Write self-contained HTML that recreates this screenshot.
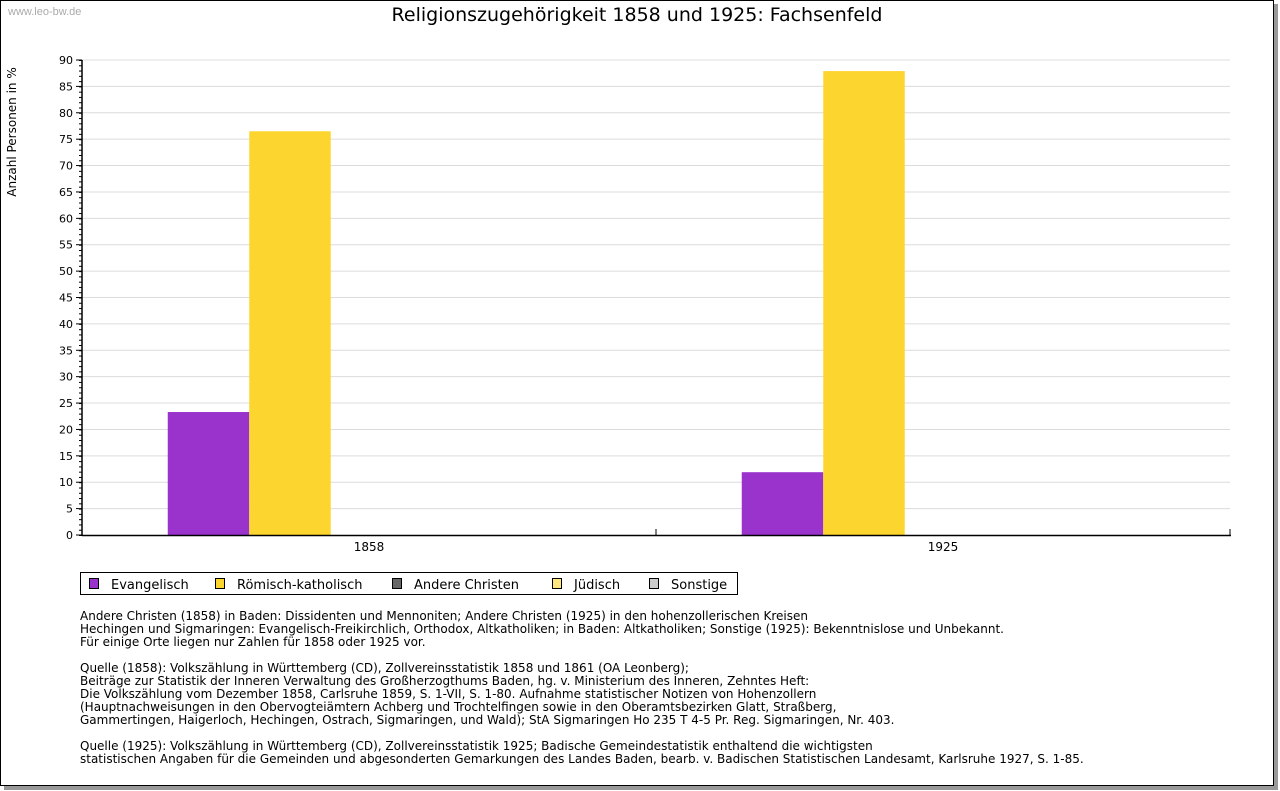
<!DOCTYPE html>
<html><head><meta charset="utf-8"><style>
body{margin:0;width:1280px;height:791px;background:#fff;overflow:hidden;font-family:"DejaVu Sans","Liberation Sans",sans-serif;}
#frame{position:absolute;left:0;top:0;width:1272px;height:784px;border:1px solid #000;box-shadow:4px 4px 0 #999;background:#fff;}
svg{position:absolute;left:0;top:0;}
#notes{position:absolute;left:80px;top:610px;font-size:12px;line-height:13px;color:#000;white-space:pre;}
</style></head><body>
<div id="frame"></div>
<svg id="chart" width="1280" height="791"></svg>
<div id="notes">Andere Christen (1858) in Baden: Dissidenten und Mennoniten; Andere Christen (1925) in den hohenzollerischen Kreisen
Hechingen und Sigmaringen: Evangelisch-Freikirchlich, Orthodox, Altkatholiken; in Baden: Altkatholiken; Sonstige (1925): Bekenntnislose und Unbekannt.
Für einige Orte liegen nur Zahlen für 1858 oder 1925 vor.

Quelle (1858): Volkszählung in Württemberg (CD), Zollvereinsstatistik 1858 und 1861 (OA Leonberg);
Beiträge zur Statistik der Inneren Verwaltung des Großherzogthums Baden, hg. v. Ministerium des Inneren, Zehntes Heft:
Die Volkszählung vom Dezember 1858, Carlsruhe 1859, S. 1-VII, S. 1-80. Aufnahme statistischer Notizen von Hohenzollern
(Hauptnachweisungen in den Obervogteiämtern Achberg und Trochtelfingen sowie in den Oberamtsbezirken Glatt, Straßberg,
Gammertingen, Haigerloch, Hechingen, Ostrach, Sigmaringen, und Wald); StA Sigmaringen Ho 235 T 4-5 Pr. Reg. Sigmaringen, Nr. 403.

Quelle (1925): Volkszählung in Württemberg (CD), Zollvereinsstatistik 1925; Badische Gemeindestatistik enthaltend die wichtigsten
statistischen Angaben für die Gemeinden und abgesonderten Gemarkungen des Landes Baden, bearb. v. Badischen Statistischen Landesamt, Karlsruhe 1927, S. 1-85.</div>
<script>
const categories=["1858","1925"];
const seriesNames=["Evangelisch","Römisch-katholisch","Andere Christen","Jüdisch","Sonstige"];
const evangelisch=[23.3,11.9];
const katholisch=[76.5,87.9];
const andere=[0,0];
const juedisch=[0,0];
const sonstige=[0,0];
const yTicks=[0,5,10,15,20,25,30,35,40,45,50,55,60,65,70,75,80,85,90];
const colors=["#9933cc","#fdd52f","#666666","#ffe680","#cccccc"];
const series=[evangelisch,katholisch,andere,juedisch,sonstige];
const NS="http://www.w3.org/2000/svg";
const svg=document.getElementById('chart');
const X0=82,X1=1230,Y0=535,Y1=60,YMAX=90;
const y=v=>Y0-(v/YMAX)*(Y0-Y1);
const groupW=(X1-X0)/categories.length;
const barW=81.5;
function el(t,a,txt){const e=document.createElementNS(NS,t);for(const k in a)e.setAttribute(k,a[k]);if(txt!==undefined)e.textContent=txt;svg.appendChild(e);return e;}
let e;
e=el('text',{x:8,y:15,'font-size':11,fill:'#aaa','font-family':'Liberation Sans, sans-serif'},'www.leo-bw.de');

e=el('text',{x:637,y:21,'font-size':19,'text-anchor':'middle'},'Religionszugehörigkeit 1858 und 1925: Fachsenfeld');

e=el('text',{x:16,y:132,'font-size':12,'text-anchor':'middle',transform:'rotate(-90 16 132)'},'Anzahl Personen in %');

yTicks.forEach(t=>{
 if(t>0){e=el('line',{x1:X0,x2:X1,y1:y(t),y2:y(t),stroke:'#dcdcdc','stroke-width':1});
 }
 e=el('text',{x:73,y:y(t)+4,'font-size':11,'text-anchor':'end'},String(t));
 
 el('line',{x1:X0-6,x2:X0,y1:y(t),y2:y(t),stroke:'#000'});
});
for(let v=0;v<=YMAX;v++){el('line',{x1:X0-3,x2:X0,y1:y(v)+0.5,y2:y(v)+0.5,stroke:'#000'});}
categories.forEach((c,i)=>{
 const cx=X0+groupW*(i+0.5);
 series.forEach((s,j)=>{
  const v=s[i]; if(v<=0)return;
  const b=el('rect',{x:cx-barW*2.5+2.5+j*barW,y:y(v),width:barW,height:Y0-y(v),fill:colors[j]});
  
  
 });
 e=el('text',{x:cx,y:551,'font-size':12,'text-anchor':'middle'},c);
 
 if(i>0)el('line',{x1:X0+groupW*i,x2:X0+groupW*i,y1:Y0-6,y2:Y0,stroke:'#000'});
});
el('line',{x1:X1,x2:X1,y1:Y0-6,y2:Y0,stroke:'#000'});
e=el('line',{x1:X0,x2:X0,y1:Y1,y2:Y0+0.5,stroke:'#000','stroke-width':1.5});

e=el('line',{x1:X0,x2:X1+1,y1:Y0+0.5,y2:Y0+0.5,stroke:'#000','stroke-width':1.5});

e=el('rect',{x:80.5,y:572.5,width:657,height:22,fill:'#fff',stroke:'#000'});

const lx=[89,215,392,552,649];
seriesNames.forEach((n,j)=>{
 e=el('rect',{x:lx[j]+0.5,y:578.5,width:9,height:10,fill:colors[j],stroke:'#000'});
 
 e=el('text',{x:lx[j]+22,y:589,'font-size':13},n);
 
});
</script>
</body></html>
